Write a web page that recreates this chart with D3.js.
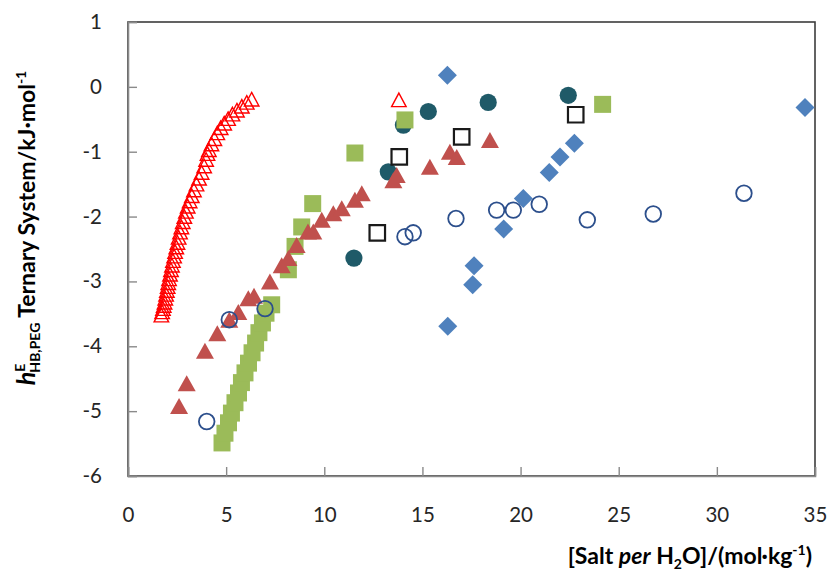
<!DOCTYPE html>
<html>
<head>
<meta charset="utf-8">
<script src="https://cdn.jsdelivr.net/npm/d3@7"></script>
<style>
  html, body { margin: 0; padding: 0; background: #fff; }
  svg { display: block; font-family: Lato, "Open Sans", sans-serif; }
</style>
</head>
<body>
<svg id="chart" width="833" height="576"></svg>
<script>
// Axis ticks
const xTicks = [0, 5, 10, 15, 20, 25, 30, 35];
const yTicks = [1, 0, -1, -2, -3, -4, -5, -6];

// Series: [salt per H2O (mol/kg), hE (kJ/mol)]
const openRedTriangles = [
  [1.70,-3.52],[1.74,-3.47],[1.78,-3.42],[1.82,-3.37],[1.86,-3.32],[1.90,-3.26],
  [1.94,-3.20],[1.98,-3.14],[2.02,-3.08],[2.05,-3.02],[2.09,-2.96],[2.14,-2.89],
  [2.19,-2.82],[2.24,-2.75],[2.29,-2.68],[2.35,-2.61],[2.40,-2.54],[2.46,-2.47],
  [2.52,-2.40],[2.58,-2.32],[2.65,-2.24],[2.72,-2.16],[2.79,-2.08],[2.87,-2.00],
  [2.95,-1.92],[3.04,-1.84],[3.14,-1.76],[3.25,-1.68],[3.36,-1.59],[3.49,-1.50],
  [3.62,-1.41],[3.75,-1.32],[3.88,-1.22],[3.98,-1.12],[4.05,-1.03],[4.12,-0.97],
  [4.25,-0.88],[4.40,-0.80],[4.55,-0.71],[4.72,-0.63],[4.90,-0.56],[5.10,-0.49],
  [5.32,-0.42],[5.55,-0.36],[5.80,-0.30],[6.05,-0.24],[6.30,-0.19],
  [13.80,-0.20]
];
const filledRedTriangles = [
  [2.60,-4.92],[2.99,-4.57],[3.92,-4.07],[4.55,-3.80],[5.16,-3.59],[5.62,-3.47],
  [6.13,-3.26],[6.42,-3.22],[7.23,-3.00],[7.83,-2.75],[8.17,-2.64],[8.59,-2.44],
  [9.17,-2.23],[9.44,-2.23],[9.87,-2.05],[10.46,-1.95],[10.89,-1.87],[11.56,-1.74],
  [11.91,-1.64],[13.52,-1.44],[13.69,-1.36],[15.38,-1.23],[16.40,-1.00],[16.75,-1.08],
  [18.44,-0.82]
];
const greenSquares = [
  [4.79,-5.49],[4.94,-5.34],[5.12,-5.18],[5.27,-5.03],[5.45,-4.87],[5.63,-4.72],
  [5.78,-4.56],[5.96,-4.41],[6.14,-4.26],[6.32,-4.10],[6.50,-3.95],[6.67,-3.79],
  [6.85,-3.64],[7.03,-3.49],[7.32,-3.36],
  [8.17,-2.82],[8.51,-2.46],[8.85,-2.16],[9.41,-1.80],[11.56,-1.02],[14.11,-0.51],
  [24.18,-0.27]
];
const tealCircles = [
  [11.51,-2.64],[13.26,-1.31],[14.03,-0.59],[15.30,-0.38],[18.35,-0.24],[22.43,-0.13]
];
const openBlueCircles = [
  [4.01,-5.16],[5.16,-3.59],[6.98,-3.42],[14.11,-2.31],[14.53,-2.25],[16.71,-2.03],
  [18.78,-1.90],[19.63,-1.90],[20.95,-1.81],[23.40,-2.05],[26.76,-1.96],[31.38,-1.64]
];
const blueDiamonds = [
  [16.27,0.18],[16.29,-3.69],[17.56,-3.05],[17.63,-2.76],[19.14,-2.19],[20.14,-1.72],
  [21.46,-1.32],[22.01,-1.08],[22.74,-0.87],[34.49,-0.32]
];
const openBlackSquares = [
  [12.70,-2.25],[13.82,-1.08],[17.00,-0.77],[22.81,-0.43]
];

const svg = d3.select("#chart");
const plot = { left: 128, right: 815, top: 22, bottom: 476 };

const x = d3.scaleLinear().domain([0, 35]).range([plot.left, plot.right]);
const y = d3.scaleLinear().domain([-6, 1]).range([plot.bottom, plot.top]);

// Plot-area frame
svg.append("rect")
  .attr("x", plot.left).attr("y", plot.top)
  .attr("width", plot.right - plot.left).attr("height", plot.bottom - plot.top)
  .attr("fill", "none").attr("stroke", "#3c3c3c").attr("stroke-width", 1.6);

// Axes with inward ticks
const xAxis = svg.append("g")
  .attr("transform", `translate(0,${plot.bottom})`)
  .call(d3.axisBottom(x).tickValues(xTicks).tickSize(-9).tickPadding(31).tickFormat(d3.format("d")));
const yAxis = svg.append("g")
  .attr("transform", `translate(${plot.left},0)`)
  .call(d3.axisLeft(y).tickValues(yTicks).tickSize(-9).tickPadding(26).tickFormat(d => d < 0 ? "-" + Math.abs(d) : d));

[xAxis, yAxis].forEach(g => {
  g.select(".domain").attr("stroke", "#8a8a8a").attr("stroke-width", 1.6);
  g.selectAll(".tick line").attr("stroke", "#8a8a8a").attr("stroke-width", 1.4);
  g.selectAll(".tick text").attr("fill", "#262626").attr("font-size", 20.5)
    .attr("font-family", "Lato, 'Open Sans', sans-serif");
});

// Marker path builders (centred on 0,0)
function trianglePath(w, h) {
  return `M0,${-h / 2}L${w / 2},${h / 2}L${-w / 2},${h / 2}Z`;
}
function squarePath(s) {
  return `M${-s / 2},${-s / 2}h${s}v${s}h${-s}Z`;
}
function diamondPath(s) {
  return `M0,${-s / 2}L${s / 2},0L0,${s / 2}L${-s / 2},0Z`;
}
function circlePath(r) {
  return `M${r},0A${r},${r} 0 1,1 ${-r},0A${r},${r} 0 1,1 ${r},0Z`;
}

function drawSeries(data, path, fill, stroke, strokeWidth) {
  svg.append("g")
    .selectAll("path")
    .data(data)
    .join("path")
    .attr("transform", d => `translate(${x(d[0])},${y(d[1])})`)
    .attr("d", path)
    .attr("fill", fill)
    .attr("stroke", stroke)
    .attr("stroke-width", strokeWidth);
}

drawSeries(tealCircles, circlePath(8.6), "#1f5a68", "none", 0);
drawSeries(greenSquares, squarePath(17), "#9bbb59", "none", 0);
drawSeries(filledRedTriangles, trianglePath(18, 16), "#c0504d", "none", 0);
drawSeries(blueDiamonds, diamondPath(19), "#4f81bd", "none", 0);
drawSeries(openBlackSquares, squarePath(15.5), "none", "#1a1a1a", 2.2);
drawSeries(openBlueCircles, circlePath(7.8), "none", "#2c4f8c", 1.8);
drawSeries(openRedTriangles, trianglePath(14.5, 13.5), "none", "#ff0000", 1.4);

// X axis title
const xt = svg.append("text")
  .attr("x", 812).attr("y", 564)
  .attr("text-anchor", "end")
  .attr("font-size", 23).attr("font-weight", "bold").attr("fill", "#000");
xt.append("tspan").text("[Salt ");
xt.append("tspan").attr("font-style", "italic").text("per");
xt.append("tspan").text(" H");
xt.append("tspan").attr("font-size", 14).attr("dy", 5).text("2");
xt.append("tspan").attr("dy", -5).text("O]/(mol·kg");
xt.append("tspan").attr("font-size", 14).attr("dy", -9).text("-1");
xt.append("tspan").attr("dy", 9).text(")");

// Y axis title
const yt = svg.append("text")
  .attr("transform", "translate(35,228) rotate(-90)")
  .attr("text-anchor", "middle")
  .attr("font-size", 23).attr("font-weight", "bold").attr("fill", "#000");
yt.append("tspan").attr("font-style", "italic").attr("font-size", 25).text("h");
yt.append("tspan").attr("font-size", 14).attr("dy", -10).text("E");
yt.append("tspan").attr("font-size", 14).attr("dx", -9).attr("dy", 15).text("HB,PEG");
yt.append("tspan").attr("dy", -5).text(" Ternary System/kJ·mol");
yt.append("tspan").attr("font-size", 14).attr("dy", -9).text("-1");
</script>
</body>
</html>
